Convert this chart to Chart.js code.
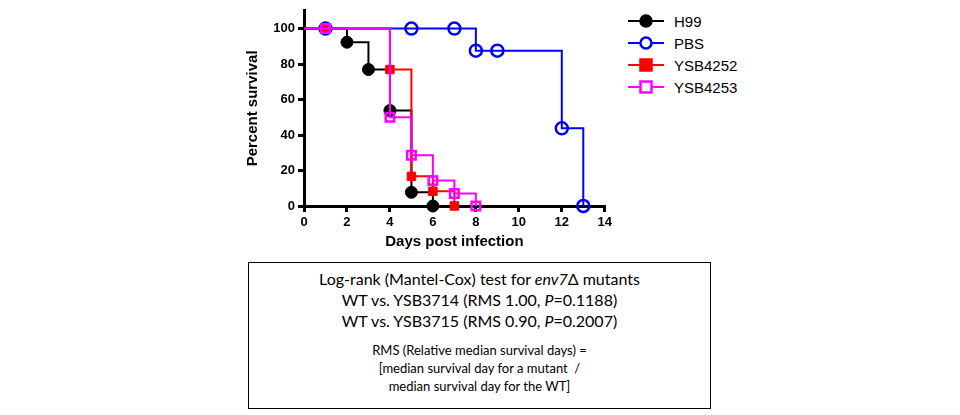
<!DOCTYPE html><html><head><meta charset="utf-8">
<script src="https://cdn.jsdelivr.net/npm/chart.js@4"></script>
<style>
body{margin:0;width:960px;height:415px;background:#fff;position:relative;font-family:"Liberation Sans",Arial,sans-serif}
#wrap{position:absolute;left:240px;top:0;width:375px;height:255px}
#leg{position:absolute;left:628px;top:10px;font-size:15px;color:#000}
#leg div{height:22px;display:flex;align-items:center}
#leg svg{margin-right:10px}
#box{position:absolute;left:248px;top:262px;width:461px;height:145px;border:1px solid #000;font-family:Lato,"Open Sans",sans-serif;text-align:center;color:#000}
.big{font-size:16px;line-height:21px}
.sm{font-size:13px;line-height:18px}
</style></head><body>
<div id="wrap"><canvas id="c"></canvas></div>
<div id="leg"></div>
<div id="box">
<div class="big" style="margin-top:5px">Log-rank (Mantel-Cox) test for <i>env7</i>Δ mutants</div>
<div class="big">WT vs. YSB3714 (RMS 1.00, <i>P</i>=0.1188)</div>
<div class="big">WT vs. YSB3715 (RMS 0.90, <i>P</i>=0.2007)</div>
<div class="sm" style="margin-top:10px">RMS (Relative median survival days) =</div>
<div class="sm">[median survival day for a mutant &nbsp;/</div>
<div class="sm">median survival day for the WT]</div>
</div>
<script>
const seriesNames=["H99","PBS","YSB4252","YSB4253"];
const colors=["#000000","#0000ff","#ff0000","#ff00ff"];
const h99X=[0,1,2,3,4,5,6], h99Y=[100,100,92.3,76.9,53.8,7.7,0];
const pbsX=[0,1,5,7,8,9,12,13], pbsY=[100,100,100,100,87.5,87.5,43.75,0];
const y52X=[0,1,4,5,6,7], y52Y=[100,100,76.9,16.7,8.3,0];
const y53X=[0,1,4,5,6,7,8], y53Y=[100,100,50,28.6,14.3,7.1,0];
const xTicks=[0,2,4,6,8,10,12,14], yTicks=[0,20,40,60,80,100];
const sets=[[h99X,h99Y,'circle',true],[pbsX,pbsY,'circle',false],[y52X,y52Y,'rect',true],[y53X,y53Y,'rect',false]];
const datasets=sets.map((s,i)=>({label:seriesNames[i],data:s[0].map((x,j)=>({x,y:s[1][j]})),
 stepped:'before',borderColor:colors[i],borderWidth:2,pointStyle:s[2],
 pointBackgroundColor:s[3]?colors[i]:'rgba(255,255,255,0)',pointBorderColor:colors[i],pointBorderWidth:s[3]?1:2.5,
 pointRadius:s[0].map((x,j)=>j===0?0:6),clip:false}));
datasets.reverse();
const ax={grid:{display:true,drawOnChartArea:false,drawTicks:true,tickLength:6,color:'#000',lineWidth:3},border:{color:'#000',width:3},
 ticks:{color:'#000',font:{family:'Liberation Sans',weight:'bold',size:13}}};
new Chart(document.getElementById('c'),{type:'line',data:{datasets},
options:{responsive:true,maintainAspectRatio:false,animation:false,layout:{padding:{top:5,right:6,left:0,bottom:0}},
plugins:{legend:{display:false},tooltip:{enabled:false}},
scales:{x:{type:'linear',min:0,max:14,...ax,ticks:{...ax.ticks,stepSize:2},afterBuildTicks:s=>{s.ticks=xTicks.map(v=>({value:v}))},
 title:{display:true,text:'Days post infection',color:'#000',font:{family:'Liberation Sans',weight:'bold',size:15},padding:{top:2}},afterFit:s=>{s.height=49}},
 y:{type:'linear',min:0,max:110,...ax,afterBuildTicks:s=>{s.ticks=yTicks.map(v=>({value:v}))},
 title:{display:true,text:'Percent survival',color:'#000',font:{family:'Liberation Sans',weight:'bold',size:15}},afterFit:s=>{s.width=64}}}}});
const leg=document.getElementById('leg');
seriesNames.forEach((n,i)=>{const filled=sets[i][3];const f=filled?colors[i]:'#fff';
 const m=sets[i][2]==='circle'?`<circle cx="18" cy="8" r="5.5" fill="${f}" stroke="${colors[i]}" stroke-width="2.5"/>`:`<rect x="12.5" y="2.5" width="11" height="11" fill="${f}" stroke="${colors[i]}" stroke-width="2.5"/>`;
 leg.innerHTML+=`<div><svg width="36" height="16"><line x1="0" y1="8" x2="36" y2="8" stroke="${colors[i]}" stroke-width="2"/>${m}</svg>${n}</div>`;});
</script></body></html>
